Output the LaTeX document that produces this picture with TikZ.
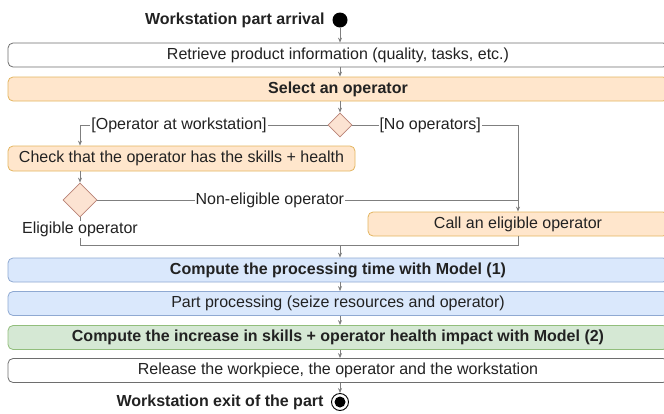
\documentclass[tikz,border=0pt]{standalone}
\usepackage{fontspec}
\setmainfont{Liberation Sans}
\usetikzlibrary{shapes.geometric,arrows.meta}

\definecolor{linegray}{HTML}{7F7F7F}
\definecolor{textdark}{HTML}{222222}
\definecolor{boxgray}{HTML}{6E6E6E}
\definecolor{orfill}{HTML}{FFE6CC}
\definecolor{ordraw}{HTML}{E3B560}
\definecolor{bluefill}{HTML}{DAE8FC}
\definecolor{bluedraw}{HTML}{8FA9D2}
\definecolor{greenfill}{HTML}{D5E8D4}
\definecolor{greendraw}{HTML}{92BE7C}
\definecolor{decfill}{HTML}{FCE3D2}
\definecolor{decdraw}{HTML}{B98276}

\begin{document}
\begin{tikzpicture}[x=1pt, y=-1pt,
    every node/.style={font=\fontsize{16}{18}\selectfont, text=textdark},
    act/.style={draw, rounded corners=5pt, minimum height=24pt, inner sep=0pt, line width=0.8pt},
    plainact/.style={act, fill=white, draw=boxgray},
    orangeact/.style={act, fill=orfill, draw=ordraw},
    blueact/.style={act, fill=bluefill, draw=bluedraw},
    greenact/.style={act, fill=greenfill, draw=greendraw},
    decision/.style={diamond, draw=decdraw, fill=decfill, line width=0.8pt, inner sep=0pt},
    flow/.style={draw=linegray, line width=0.8pt, -{Stealth[length=5pt,width=4pt]}},
    link/.style={draw=linegray, line width=0.8pt},
    guard/.style={fill=white, inner sep=1pt},
    boldtxt/.style={font=\fontsize{16}{18}\selectfont\bfseries}]
    \useasboundingbox (0,0) rectangle (664,413);

    \node[circle, fill=black, minimum size=15pt, inner sep=0pt] (start) at (340, 20) {};
    \node[anchor=east, boldtxt] (startlbl) at (328, 20) {Workstation part arrival};
    \node[plainact, minimum width=660pt] (retrieve) at (338, 55) {Retrieve product information (quality, tasks, etc.)};
    \node[orangeact, minimum width=660pt, boldtxt] (select) at (338, 89) {Select an operator};
    \node[decision, minimum width=24pt, minimum height=24pt] (dec0) at (340, 125) {};
    \node[orangeact, minimum width=347pt, minimum height=25pt] (check) at (181.5, 158.5) {Check that the operator has the skills + health};
    \node[decision, minimum width=34pt, minimum height=34pt] (dec1) at (80, 200) {};
    \node[orangeact, minimum width=300pt] (call) at (518, 224) {Call an eligible operator};
    \coordinate (merge) at (340, 245);
    \node[blueact, minimum width=660pt, boldtxt] (compute0) at (338, 270) {Compute the processing time with Model (1)};
    \node[blueact, minimum width=660pt] (process) at (338, 303.5) {Part processing (seize resources and operator)};
    \node[greenact, minimum width=660pt, boldtxt] (compute1) at (338, 337.5) {Compute the increase in skills + operator health impact with Model (2)};
    \node[plainact, minimum width=660pt] (release) at (338, 370.5) {Release the workpiece, the operator and the workstation};
    \node[circle, draw=black, line width=0.9pt, minimum size=17pt, inner sep=0pt] (stop) at (340, 402) {};
    \node[circle, fill=black, minimum size=11pt, inner sep=0pt] (stopdot) at (stop.center) {};
    \node[anchor=east, boldtxt] (stoplbl) at (327, 402) {Workstation exit of the part};

    % main line
    \draw[flow] (start.south) -- (start.south |- retrieve.north);
    \draw[flow] (start.south |- retrieve.south) -- (start.south |- select.north);
    \draw[flow] (dec0 |- select.south) -- (dec0.north);

    % operator choice
    \draw[flow] (dec0.west) -- node[guard, pos=0.6] {[Operator at workstation]} (dec1 |- dec0) -- (dec1 |- check.north);
    \draw[flow] (dec0.east) -- node[guard, pos=0.47] {[No operators]} (call.north |- dec0) -- (call.north);
    \draw[flow] (dec1 |- check.south) -- (dec1.north);
    \draw[link] (dec1.east) -- node[guard, pos=0.41] {Non-eligible operator} (call.north |- dec1);
    \draw[link] (dec1.south) -- node[guard, pos=0.45] {Eligible operator} (dec1 |- merge) -- (merge);
    \draw[link] (call.south) -- (call.south |- merge) -- (merge);
    \draw[flow] (merge) -- (compute0.north -| merge);

    % processing
    \draw[flow] (merge |- compute0.south) -- (merge |- process.north);
    \draw[flow] (merge |- process.south) -- (merge |- compute1.north);
    \draw[flow] (merge |- compute1.south) -- (merge |- release.north);
    \draw[flow] (merge |- release.south) -- (stop.north);
\end{tikzpicture}
\end{document}
